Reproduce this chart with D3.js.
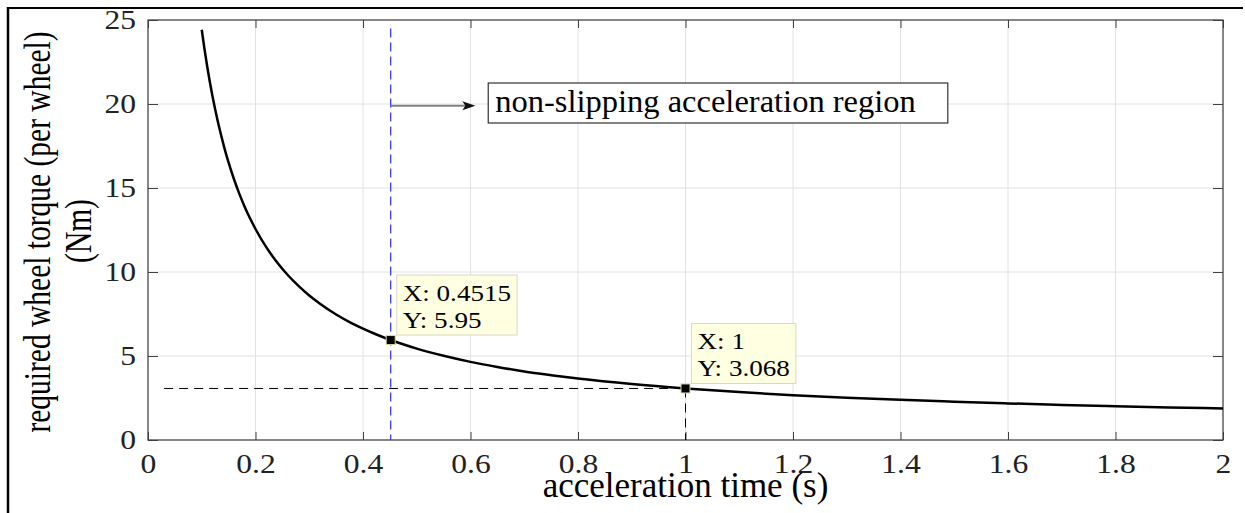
<!DOCTYPE html>
<html>
<head>
<meta charset="utf-8">
<script src="https://cdn.jsdelivr.net/npm/d3@7"></script>
<style>
  body { margin: 0; background: #fff; }
  svg { display: block; }
  text { font-family: "Liberation Serif", "Times New Roman", serif; fill: #000; }
</style>
</head>
<body>
<svg id="chart"></svg>
<script>
// acceleration time (s) vs required wheel torque (Nm)
const timeX = [0.100, 0.105, 0.110, 0.115, 0.120, 0.125, 0.130, 0.135, 0.140, 0.145, 0.150, 0.160, 0.170, 0.180, 0.190,
               0.200, 0.220, 0.240, 0.260, 0.280, 0.300, 0.320, 0.350, 0.375, 0.400, 0.425, 0.4515, 0.500, 0.550,
               0.600, 0.650, 0.700, 0.750, 0.800, 0.900, 1.000, 1.100, 1.200, 1.300, 1.400, 1.500, 1.600, 1.700,
               1.800, 1.900, 2.000];
const torqueY = [24.42, 23.29, 22.26, 21.32, 20.46, 19.67, 18.94, 18.27, 17.64, 17.05, 16.51, 15.52, 14.65, 13.87, 13.18,
                 12.56, 11.48, 10.58, 9.82, 9.17, 8.60, 8.11, 7.47, 7.02, 6.63, 6.28, 5.95, 5.44, 5.01,
                 4.65, 4.35, 4.08, 3.86, 3.66, 3.33, 3.068, 2.85, 2.67, 2.52, 2.39, 2.28, 2.18, 2.09,
                 2.01, 1.94, 1.88];

const xTicks = [0, 0.2, 0.4, 0.6, 0.8, 1, 1.2, 1.4, 1.6, 1.8, 2];
const xTickLabels = ["0", "0.2", "0.4", "0.6", "0.8", "1", "1.2", "1.4", "1.6", "1.8", "2"];
const yTicks = [0, 5, 10, 15, 20, 25];
const yTickLabels = ["0", "5", "10", "15", "20", "25"];

// data tips
const tipX = [0.4515, 1];
const tipY = [5.95, 3.068];
const tipLines = [["X: 0.4515", "Y: 5.95"], ["X: 1", "Y: 3.068"]];

// reference lines / annotation
const limitX = 0.4515;
const limitTop = 24.5;
const refY = 3.068;
const refStart = 0.03;
const arrowFrom = [0.4515, 19.9];
const arrowTo = [0.609, 19.9];
const noteBox = [0.633, 21.25, 1.488, 18.87];  // x0, yTop, x1, yBottom
const noteText = "non-slipping acceleration region";

const W = 1245, H = 513;
const margin = { top: 20, right: 22, bottom: 73, left: 148 },
      width = W - margin.left - margin.right,
      height = H - margin.top - margin.bottom;

const root = d3.select("#chart").attr("width", W).attr("height", H);

// figure frame (top and left edges visible)
root.append("line").attr("x1", 7).attr("x2", 1243).attr("y1", 8).attr("y2", 8)
    .attr("stroke", "#000").attr("stroke-width", 2);
root.append("line").attr("x1", 8).attr("x2", 8).attr("y1", 7).attr("y2", H)
    .attr("stroke", "#000").attr("stroke-width", 2.5);

const svg = root.append("g").attr("transform", `translate(${margin.left},${margin.top})`);

const x = d3.scaleLinear().domain([0, 2]).range([0, width]);
const y = d3.scaleLinear().domain([0, 25]).range([height, 0]);

// grid
svg.append("g").selectAll("line").data(xTicks).enter().append("line")
    .attr("x1", d => x(d)).attr("x2", d => x(d)).attr("y1", 0).attr("y2", height)
    .attr("stroke", "#e2e2e2").attr("stroke-width", 1);
svg.append("g").selectAll("line").data(yTicks).enter().append("line")
    .attr("x1", 0).attr("x2", width).attr("y1", d => y(d)).attr("y2", d => y(d))
    .attr("stroke", "#e2e2e2").attr("stroke-width", 1);

// axes
const axisColor = "#404040";
const xAxis = svg.append("g").attr("transform", `translate(0,${height})`)
    .call(d3.axisBottom(x).tickValues(xTicks).tickFormat((d, i) => xTickLabels[i])
        .tickSizeInner(-8).tickSizeOuter(0).tickPadding(14));
xAxis.select(".domain").remove();
xAxis.selectAll("line").attr("stroke", axisColor);
xAxis.selectAll("text").attr("font-size", 27).attr("font-family", null)
    .attr("transform", "scale(1.17,1)").style("fill", "#222");

const yAxis = svg.append("g")
    .call(d3.axisLeft(y).tickValues(yTicks).tickFormat((d, i) => yTickLabels[i])
        .tickSizeInner(-10).tickSizeOuter(0).tickPadding(0));
yAxis.select(".domain").remove();
yAxis.selectAll("line").attr("stroke", axisColor);
yAxis.selectAll("text").attr("font-size", 27).attr("font-family", null)
    .attr("x", 0).attr("transform", "translate(-12,0) scale(1.17,1)").style("fill", "#222");

const xTop = svg.append("g")
    .call(d3.axisTop(x).tickValues(xTicks).tickFormat("").tickSizeInner(-8).tickSizeOuter(0));
xTop.select(".domain").remove();
xTop.selectAll("line").attr("stroke", axisColor);

const yRight = svg.append("g").attr("transform", `translate(${width},0)`)
    .call(d3.axisRight(y).tickValues(yTicks).tickFormat("").tickSizeInner(-10).tickSizeOuter(0));
yRight.select(".domain").remove();
yRight.selectAll("line").attr("stroke", axisColor);

svg.append("rect").attr("x", 0).attr("y", 0).attr("width", width).attr("height", height)
    .attr("fill", "none").attr("stroke", axisColor).attr("stroke-width", 1.2);

// axis labels
svg.append("text")
    .attr("x", width / 2).attr("y", height + 57)
    .attr("text-anchor", "middle").attr("font-size", 35)
    .text("acceleration time (s)");

const yLab = svg.append("g")
    .attr("transform", `translate(${50 - margin.left},${height / 2 + 2}) rotate(-90) scale(1,1.25)`);
yLab.append("text").attr("text-anchor", "middle").attr("font-size", 29.5)
    .text("required wheel torque (per wheel)");
const yLab2 = svg.append("g")
    .attr("transform", `translate(${91 - margin.left},${height / 2 + 1}) rotate(-90) scale(1,1.25)`);
yLab2.append("text").attr("text-anchor", "middle").attr("font-size", 29.5).text("(Nm)");

// reference lines
svg.append("line")
    .attr("x1", x(limitX)).attr("x2", x(limitX)).attr("y1", y(limitTop)).attr("y2", y(0))
    .attr("stroke", "#3a3aff").attr("stroke-width", 1.3).attr("stroke-dasharray", "9,5");
svg.append("line")
    .attr("x1", x(refStart)).attr("x2", x(tipX[1])).attr("y1", y(refY)).attr("y2", y(refY))
    .attr("stroke", "#000").attr("stroke-width", 1).attr("stroke-dasharray", "9,6");
svg.append("line")
    .attr("x1", x(tipX[1])).attr("x2", x(tipX[1])).attr("y1", y(refY)).attr("y2", y(0))
    .attr("stroke", "#000").attr("stroke-width", 1).attr("stroke-dasharray", "9,6");

// curve
const line = d3.line().x(d => x(d[0])).y(d => y(d[1])).curve(d3.curveMonotoneX);
svg.append("path")
    .datum(timeX.map((t, i) => [t, torqueY[i]]))
    .attr("d", line)
    .attr("fill", "none").attr("stroke", "#000").attr("stroke-width", 2.5);

// arrow annotation
const ax0 = x(arrowFrom[0]), ay = y(arrowFrom[1]), ax1 = x(arrowTo[0]);
svg.append("line").attr("x1", ax0).attr("x2", ax1 - 10).attr("y1", ay).attr("y2", ay)
    .attr("stroke", "#808080").attr("stroke-width", 2);
svg.append("path")
    .attr("d", `M${ax1},${ay} L${ax1 - 13},${ay - 4.5} L${ax1 - 10},${ay} L${ax1 - 13},${ay + 4.5} Z`)
    .attr("fill", "#111");

svg.append("rect")
    .attr("x", x(noteBox[0])).attr("y", y(noteBox[1]))
    .attr("width", x(noteBox[2]) - x(noteBox[0])).attr("height", y(noteBox[3]) - y(noteBox[1]))
    .attr("fill", "#fff").attr("stroke", "#333").attr("stroke-width", 1.2);
svg.append("text")
    .attr("x", x(noteBox[0]) + 7).attr("y", y(noteBox[1]) + 29)
    .attr("font-size", 32.5).text(noteText);

// data tips
tipX.forEach((tx, i) => {
    const px = x(tx), py = y(tipY[i]);
    const left = px + 6, top = py - 65;
    const box = svg.append("rect").attr("x", left).attr("y", top).attr("height", 60)
        .attr("fill", "#ffffe1").attr("stroke", "#d8d8c8").attr("stroke-width", 1);
    const tg = svg.append("g");
    tipLines[i].forEach((s, j) => {
        tg.append("text")
            .attr("transform", `translate(${left + 6},${top + 25.5 + j * 27}) scale(1.13,1)`)
            .attr("font-size", 24).text(s);
    });
    const bb = tg.node().getBBox();
    box.attr("width", bb.x + bb.width - left + 6);
    svg.append("rect").attr("x", px - 4.5).attr("y", py - 4.5).attr("width", 9).attr("height", 9)
        .attr("fill", "#000").attr("stroke", "#d8d8a0").attr("stroke-width", 1);
});
</script>
</body>
</html>
